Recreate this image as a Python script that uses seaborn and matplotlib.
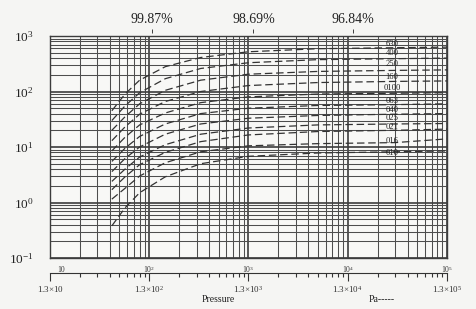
import numpy as np
import pandas as pd
import matplotlib
matplotlib.use("Agg")
import matplotlib.pyplot as plt
import seaborn as sns
from matplotlib.ticker import LogLocator, NullFormatter, FixedLocator, FixedFormatter

# ---------------- data ----------------
pressure = [42, 57, 80, 145, 330, 1000, 5000, 30000, 100000]
curve_names = ["630", "400", "250", "160", "0100", "063", "040", "025", "021", "016", "010"]
s630 = [45, 90, 160, 280, 410, 520, 590, 615, 630]
s400 = [30, 55, 95, 170, 260, 330, 375, 390, 400]
s250 = [20, 35, 60, 105, 160, 205, 230, 240, 245]
s160 = [13, 23, 39, 66, 100, 128, 145, 152, 155]
s100 = [8.5, 15, 25, 41, 63, 80, 90, 93, 95]
s063 = [5.5, 9.5, 15.5, 26, 40, 50, 56, 58, 60]
s040 = [3.6, 6.2, 10, 17, 26, 33, 37, 39, 40]
s025 = [2.4, 4.0, 6.6, 11, 17, 22, 25, 26, 26.5]
s021 = [1.7, 2.9, 4.8, 8.0, 12.5, 16.5, 19, 20, 21]
s016 = [1.15, 1.8, 3.0, 5.2, 8.2, 10.5, 11.5, 12, 14]
s010 = [0.38, 0.8, 1.5, 2.9, 5.0, 6.8, 7.8, 8.2, 8.5]
series = [s630, s400, s250, s160, s100, s063, s040, s025, s021, s016, s010]

label_y = [718, 494, 313, 182, 116, 67, 46.4, 33.3, 22.9, 12.8, 7.8]
label_x = 28000

y_ticks = [0.1, 1, 10, 100, 1000]
y_ticklabels = [r"$10^{-1}$", r"$10^{0}$", r"$10^{1}$", r"$10^{2}$", r"$10^{3}$"]
x_ticks = [10, 100, 1000, 10000, 100000]
x_ticklabels = ["10", r"$10^{2}$", r"$10^{3}$", r"$10^{4}$", r"$10^{5}$"]
pa_ticklabels = [r"1.3$\times$10", r"1.3$\times$10$^{2}$", r"1.3$\times$10$^{3}$",
                 r"1.3$\times$10$^{4}$", r"1.3$\times$10$^{5}$"]
top_pos = [107, 1120, 11200]
top_labels = ["99.87%", "98.69%", "96.84%"]

# ---------------- style ----------------
sns.set_style("white")
plt.rcParams["font.family"] = ["Liberation Serif", "DejaVu Serif"]
plt.rcParams["mathtext.fontset"] = "custom"
plt.rcParams["mathtext.rm"] = "Liberation Serif"
plt.rcParams["mathtext.it"] = "Liberation Serif:italic"

fig = plt.figure(figsize=(4.77, 3.09), dpi=100, facecolor="#f5f5f3")
ax = fig.add_axes([50/477, 1-258/309, 397/477, 222/309])
ax.set_facecolor("#f8f8f6")

rows = []
for name, vals in zip(curve_names, series):
    for p, v in zip(pressure, vals):
        rows.append({"curve": name, "p": p, "s": v})
df = pd.DataFrame(rows)

for name in curve_names:
    sub = df[df["curve"] == name]
    sns.lineplot(data=sub, x="p", y="s", ax=ax, color="#333333", lw=0.9,
                 linestyle=(0, (6, 3)), legend=False, zorder=3)

ax.set_xscale("log")
ax.set_yscale("log")
ax.set_xlim(10, 100000)
ax.set_ylim(0.1, 1000)

ax.xaxis.set_major_locator(FixedLocator(x_ticks))
ax.xaxis.set_minor_locator(LogLocator(base=10, subs=np.arange(2, 10)))
ax.yaxis.set_major_locator(FixedLocator(y_ticks))
ax.yaxis.set_minor_locator(LogLocator(base=10, subs=np.arange(2, 10)))
ax.xaxis.set_minor_formatter(NullFormatter())
ax.yaxis.set_minor_formatter(NullFormatter())
ax.set_yticklabels(y_ticklabels, fontsize=9.5)
ax.tick_params(axis="y", which="both", length=0, pad=12, colors="#222222")
ax.set_xticklabels([])
ax.tick_params(axis="x", which="both", length=0)

ax.grid(True, which="major", color="#3c3c3c", lw=1.2)
ax.grid(True, which="minor", color="#4e4e4e", lw=0.75)
for sp in ax.spines.values():
    sp.set_color("#3c3c3c")
    sp.set_linewidth(1.0)

ax.set_xlabel("")
ax.set_ylabel("")

# small decade labels under the plot
for xv, lab in zip([13, 100, 1000, 10000, 100000], x_ticklabels):
    ax.text(xv, 0.062, lab, ha="center", va="center", fontsize=5.5, color="#333333")

# curve labels
for name, yv in zip(curve_names, label_y):
    ax.text(label_x, yv, name, ha="center", va="center", fontsize=6.2,
            color="#222222", zorder=4)

# Pa ruler axis below
sec = ax.secondary_xaxis(-0.068)
sec.xaxis.set_major_locator(FixedLocator(x_ticks))
sec.xaxis.set_minor_locator(LogLocator(base=10, subs=np.arange(2, 10)))
sec.xaxis.set_major_formatter(FixedFormatter(pa_ticklabels))
sec.xaxis.set_minor_formatter(NullFormatter())
sec.tick_params(axis="x", which="major", length=6, width=0.8, direction="out",
                labelsize=6.5, pad=2, colors="#333333")
sec.tick_params(axis="x", which="minor", length=3, width=0.8, direction="out",
                colors="#333333")
sec.spines["bottom"].set_color("#333333")
sec.spines["bottom"].set_linewidth(0.8)

# top percentages
top = ax.secondary_xaxis(1.015)
top.xaxis.set_ticks_position("top")
top.xaxis.set_label_position("top")
top.xaxis.set_major_locator(FixedLocator(top_pos))
top.xaxis.set_major_formatter(FixedFormatter(top_labels))
top.xaxis.set_minor_locator(FixedLocator([]))
top.tick_params(axis="x", which="major", length=3, width=0.6, pad=2,
                labelsize=10, colors="#222222")
top.spines["top"].set_visible(False)
top.spines["bottom"].set_visible(False)
top.set_xlabel("")

fig.text(218/477, 1-300/309, "Pressure", ha="center", va="center", fontsize=7, color="#222222")
fig.text(382/477, 1-300/309, "Pa-----", ha="center", va="center", fontsize=7, color="#222222")

fig.savefig("out.png", dpi=100, facecolor=fig.get_facecolor())
